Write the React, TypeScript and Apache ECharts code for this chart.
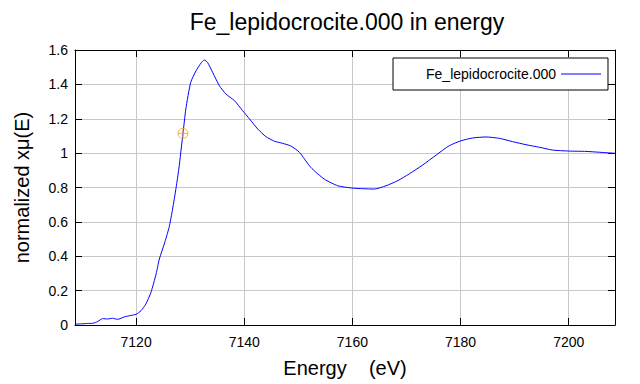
import React, { useEffect, useRef } from "react";
import * as echarts from "echarts";

const titleText = "Fe_lepidocrocite.000 in energy";
const seriesName = "Fe_lepidocrocite.000";
const xTicks = [7120, 7140, 7160, 7180, 7200];

const energy = [
  7108.7, 7110, 7111, 7112, 7112.9, 7113.8, 7114.7, 7115.6, 7116.6, 7117.8, 7119.1, 7120,
  7120.9, 7121.8, 7122.75, 7123.7, 7124.3, 7125.2, 7126.1, 7126.75, 7127.4, 7127.9, 7128.67,
  7129.2, 7130.1, 7131.1, 7132, 7132.6, 7133.2, 7134.15, 7135.4, 7136.6, 7138.2, 7139.7,
  7141.0, 7142.5, 7144.0, 7145.6, 7147.1, 7148.65, 7150.2, 7152.3, 7154.8, 7157.3, 7159.85,
  7161.9, 7164.05, 7166.2, 7168.4, 7170.5, 7173.0, 7175.5, 7177.9, 7180, 7182.2, 7184.7,
  7187.2, 7189.6, 7192.1, 7194.6, 7197.0, 7200, 7203.2, 7205.7, 7208.6,
];
const mu = [
  0.005, 0.007, 0.009, 0.01, 0.02, 0.037, 0.035, 0.039, 0.033, 0.047, 0.056, 0.062,
  0.083, 0.122, 0.19, 0.297, 0.384, 0.471, 0.568, 0.675, 0.8, 0.908, 1.115,
  1.257, 1.412, 1.48, 1.524, 1.542, 1.528, 1.47, 1.392, 1.344, 1.305, 1.247,
  1.198, 1.14, 1.096, 1.069, 1.057, 1.041, 1.005, 0.917, 0.849, 0.81, 0.797,
  0.793, 0.791, 0.81, 0.84, 0.879, 0.931, 0.989, 1.043, 1.071, 1.088, 1.094,
  1.086, 1.067, 1.049, 1.034, 1.018, 1.012, 1.01, 1.005, 0.999,
];
const markerPoint = [7128.67, 1.115];

const FONT = "'Liberation Sans', Arial, sans-serif";

export default function App() {
  const ref = useRef<HTMLDivElement>(null);
  useEffect(() => {
    if (!ref.current) return;
    const chart = echarts.init(ref.current, null, { renderer: "svg" });
    const xMin = 7108.7;
    const xMax = 7208.56;
    const commonX = {
      type: "value",
      min: xMin,
      max: xMax,
      axisLine: { show: true, onZero: false, lineStyle: { color: "#000", width: 1 } },
      axisTick: { show: true, inside: true, length: 7, customValues: xTicks, lineStyle: { color: "#000" } },
    };
    const commonY = {
      type: "value",
      min: 0,
      max: 1.6,
      interval: 0.2,
      axisLine: { show: true, onZero: false, lineStyle: { color: "#000", width: 1 } },
      axisTick: { show: true, inside: true, length: 7, lineStyle: { color: "#000" } },
    };
    chart.setOption({
      animation: false,
      backgroundColor: "#fff",
      textStyle: { fontFamily: FONT },
      title: {
        text: titleText,
        left: 347,
        top: 10,
        padding: 0,
        textAlign: "center",
        textStyle: { fontFamily: FONT, fontSize: 23, fontWeight: "normal", color: "#000" },
      },
      legend: {
        data: [{ name: seriesName, icon: "path://M0,0L40,0L40,1L0,1Z" }],
        right: 32,
        top: 58,
        align: "right",
        itemWidth: 40,
        itemHeight: 14,
        symbolKeepAspect: true,
        padding: [9, 7, 9, 33],
        borderColor: "#000",
        borderWidth: 1,
        borderRadius: 0,
        backgroundColor: "#fff",
        itemStyle: { color: "#0000ff", borderWidth: 0 },
        textStyle: { fontFamily: FONT, fontSize: 14, color: "#000" },
      },
      grid: { left: 75, right: 25, top: 50, bottom: 59, containLabel: false },
      xAxis: [
        {
          ...commonX,
          position: "bottom",
          name: "Energy    (eV)",
          nameLocation: "middle",
          nameGap: 33,
          nameTextStyle: { fontFamily: FONT, fontSize: 20, color: "#000" },
          axisLabel: {
            customValues: xTicks,
            margin: 10,
            fontFamily: FONT,
            fontSize: 14,
            color: "#000",
            formatter: (v: number) => String(v),
          },
          splitLine: { show: true, lineStyle: { color: "#c8c8c8", width: 1 } },
        },
        {
          ...commonX,
          position: "top",
          axisLabel: { show: false },
          splitLine: { show: false },
        },
      ],
      yAxis: [
        {
          ...commonY,
          position: "left",
          name: "normalized xμ(E)",
          nameLocation: "middle",
          nameGap: 43,
          nameTextStyle: { fontFamily: FONT, fontSize: 20, color: "#000" },
          axisLabel: { margin: 7, fontFamily: FONT, fontSize: 14, color: "#000" },
          splitLine: { show: true, lineStyle: { color: "#c8c8c8", width: 1 } },
        },
        {
          ...commonY,
          position: "right",
          axisLabel: { show: false },
          splitLine: { show: false },
        },
      ],
      series: [
        {
          name: seriesName,
          type: "line",
          data: energy.map((e, i) => [e, mu[i]]),
          symbol: "none",
          showSymbol: false,
          smooth: 0.2,
          lineStyle: { color: "#0000ff", width: 1 },
          itemStyle: { color: "#0000ff" },
        },
        {
          name: "marker",
          type: "scatter",
          data: [markerPoint],
          symbol: "path://M10,5A5,5,0,1,1,0,5A5,5,0,1,1,10,5ZM5,0L5,10M0,5L10,5",
          symbolSize: 10,
          itemStyle: { color: "transparent", borderColor: "#f0a020", borderWidth: 1 },
          z: 5,
        },
      ],
    });
    return () => chart.dispose();
  }, []);
  return <div ref={ref} style={{ width: 640, height: 384, position: "absolute", left: 0, top: 0 }} />;
}
